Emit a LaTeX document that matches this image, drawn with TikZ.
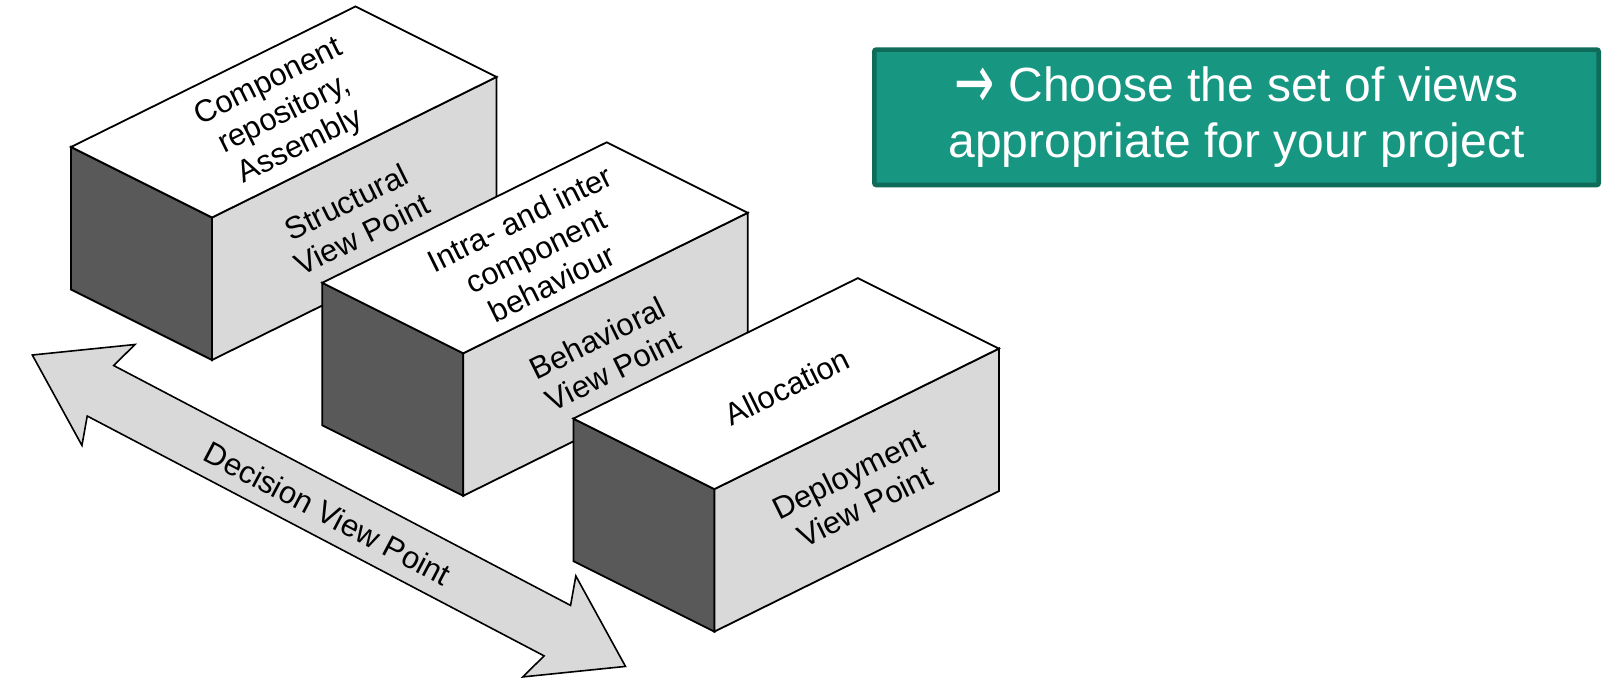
\documentclass[tikz,border=0pt]{standalone}
\usepackage{fontspec}
\setmainfont{Liberation Sans}
\newfontfamily\arrowfont{DejaVu Sans}
\usetikzlibrary{calc}

\definecolor{darkside}{RGB}{89,89,89}
\definecolor{lightside}{RGB}{217,217,217}
\definecolor{tealfill}{RGB}{23,150,129}
\definecolor{tealline}{RGB}{15,108,91}

\newcommand{\choosearrow}{\raisebox{-7pt}{\scalebox{1}[1.6]{\arrowfont →}}}

\begin{document}
\begin{tikzpicture}[x=1pt,y=-1pt,
	face/.style={draw=black,line width=1.8pt},
	boxtext/.style={font=\fontsize{31}{36}\selectfont,align=center,inner sep=0pt,rotate=26.3},
	arrowtext/.style={font=\fontsize{31}{36}\selectfont,inner sep=0pt,rotate=-27.7},
	choosebox/.style={draw=tealline,fill=tealfill,line width=4.7pt,rounded corners=2pt,
		minimum width=724.3pt,minimum height=135.3pt,text=white,align=center,
		font=\fontsize{48}{55.7}\selectfont}]
	\useasboundingbox (0,0) rectangle (1610,684);
	% decision arrow
	\begin{scope}[shift={(32.3,355)},rotate=-27.7]
		\filldraw[face,fill=lightside,line width=1.6pt] (0,0) -- (86,-57) -- (77,-28.5) -- (593,-28.5) -- (584,-57) -- (670,0)
			-- (584,57) -- (593,28.5) -- (77,28.5) -- (86,57) -- cycle;
		\node[arrowtext] (decision) at (335,3) {Decision View Point};
	\end{scope}
	% the three boxes
	\foreach \n/\px/\py in {struct/212/217.5,behav/463.2/353.3,deploy/714.4/489.1} {
		\coordinate (\n) at (\px,\py);
		\filldraw[face,fill=darkside] (\n) -- ++(-141,-70.5) -- ++(0,142.5) -- ++(141,70.5) -- cycle;
		\filldraw[face,fill=lightside] (\n) -- ++(284.5,-140.5) -- ++(0,142.5) -- ++(-284.5,140.5) -- cycle;
		\filldraw[face,fill=white] (\n) -- ++(-141,-70.5) -- ++(284.5,-140.5) -- ++(141,70.5) -- cycle;
	}
	\node[boxtext] (structTop) at ($(struct)+(72.75,-102.5)$) {Component\\repository,\\Assembly};
	\node[boxtext] (structFront) at ($(struct)+(142.25,0.75)$) {Structural\\View Point};
	\node[boxtext] (behavTop) at ($(behav)+(72.75,-102.5)$) {Intra- and inter\\component\\behaviour};
	\node[boxtext] (behavFront) at ($(behav)+(142.25,0.75)$) {Behavioral\\View Point};
	\node[boxtext] (deployTop) at ($(deploy)+(72.75,-102.5)$) {Allocation};
	\node[boxtext] (deployFront) at ($(deploy)+(142.25,0.75)$) {Deployment\\View Point};
	% note box
	\node[choosebox] (choose) at (1236.5,117.3) {\choosearrow\ Choose the set of views\\appropriate for your project};
\end{tikzpicture}
\end{document}
